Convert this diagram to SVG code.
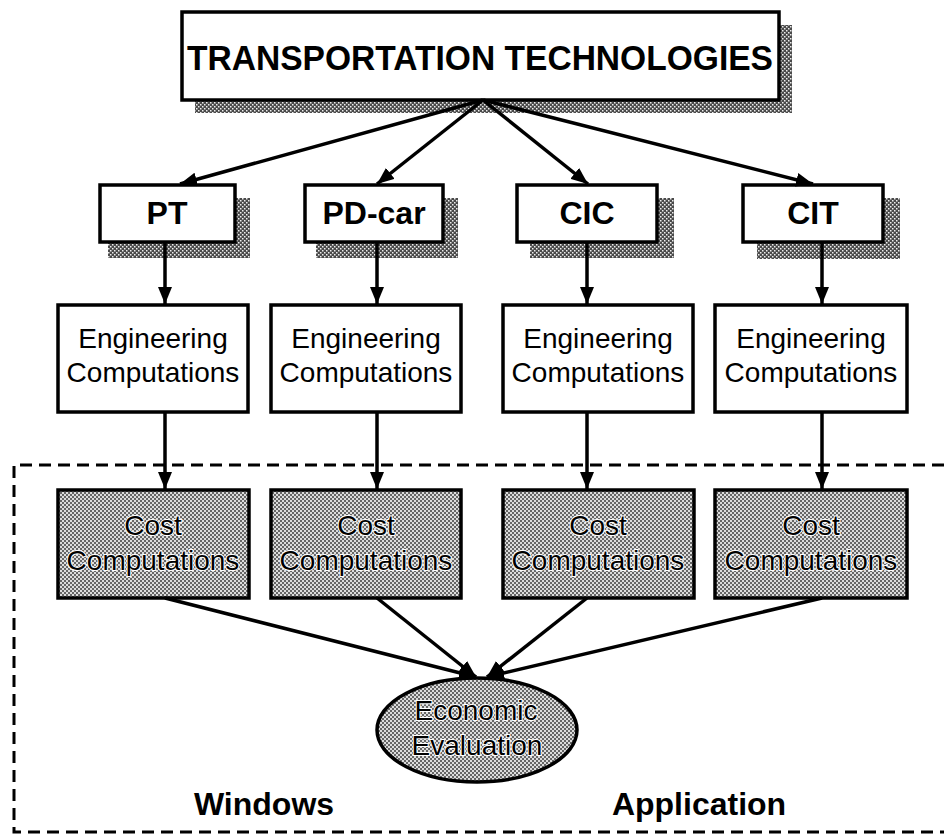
<svg xmlns="http://www.w3.org/2000/svg" width="944" height="837" viewBox="0 0 944 837">
<defs>
<pattern id="shade" width="4" height="4" patternUnits="userSpaceOnUse">
<rect width="4" height="4" fill="#4a4a4a"/>
<rect x="0" y="0" width="1.5" height="1.5" fill="#eee"/>
<rect x="2" y="2" width="1.5" height="1.5" fill="#eee"/>
</pattern>
<pattern id="fillp" width="4" height="4" patternUnits="userSpaceOnUse">
<rect width="4" height="4" fill="#dcdcdc"/>
<rect x="0" y="0" width="2" height="2" fill="#666"/>
<rect x="2" y="2" width="2" height="2" fill="#666"/>
</pattern>
<marker id="ah" viewBox="0 0 17 14" refX="17" refY="7" markerWidth="17" markerHeight="14" orient="auto" markerUnits="userSpaceOnUse">
<path d="M0,0 L17,7 L0,14 z" fill="#000"/>
</marker>
</defs>
<style>
.box{fill:#fff;stroke:#000;stroke-width:3.5}
.cbox{fill:url(#fillp);stroke:#000;stroke-width:3.5}
.sh{fill:url(#shade)}
.big{font-family:"Liberation Sans",Arial,sans-serif;font-weight:bold;fill:#000;text-anchor:middle}
.t{font-family:"Liberation Sans",Arial,sans-serif;font-size:28px;fill:#000;text-anchor:middle}
.ct{font-family:"Liberation Sans",Arial,sans-serif;font-size:28px;fill:#000;text-anchor:middle;stroke:#fff;stroke-width:2;paint-order:stroke}
.ln{stroke:#000;stroke-width:3.5;fill:none;marker-end:url(#ah)}
.dash{stroke:#000;stroke-width:3;fill:none;stroke-dasharray:12 7}
</style>
<rect width="944" height="837" fill="#fff"/>

<g id="boundary">
<path class="dash" d="M944,465 H14 V832 H944"/>
<text class="big" x="264" y="815" font-size="32">Windows</text>
<text class="big" x="699" y="815" font-size="32">Application</text>
</g>

<g id="title">
<rect class="sh" x="195" y="25" width="597" height="88"/>
<rect class="box" x="182" y="12" width="597" height="88"/>
<text class="big" x="480" y="70" font-size="35" textLength="586" lengthAdjust="spacingAndGlyphs">TRANSPORTATION  TECHNOLOGIES</text>
</g>

<g id="pt">
<rect class="sh" x="108" y="198" width="142" height="60"/>
<rect class="box" x="100" y="185" width="135" height="57"/>
<text class="big" x="167" y="224" font-size="32">PT</text>
</g>
<g id="pdcar">
<rect class="sh" x="316" y="198" width="142" height="60"/>
<rect class="box" x="305" y="185" width="138" height="57"/>
<text class="big" x="374" y="224" font-size="32">PD-car</text>
</g>
<g id="cic">
<rect class="sh" x="530" y="198" width="144" height="60"/>
<rect class="box" x="517" y="185" width="140" height="57"/>
<text class="big" x="587" y="224" font-size="32">CIC</text>
</g>
<g id="cit">
<rect class="sh" x="757" y="198" width="143" height="61"/>
<rect class="box" x="743" y="185" width="140" height="57"/>
<text class="big" x="813" y="224" font-size="32">CIT</text>
</g>

<g id="eng1">
<rect class="box" x="58" y="305" width="190" height="107"/>
<text class="t" x="153" y="348">Engineering</text>
<text class="t" x="153" y="382">Computations</text>
</g>
<g id="eng2">
<rect class="box" x="271" y="305" width="190" height="107"/>
<text class="t" x="366" y="348">Engineering</text>
<text class="t" x="366" y="382">Computations</text>
</g>
<g id="eng3">
<rect class="box" x="503" y="305" width="190" height="107"/>
<text class="t" x="598" y="348">Engineering</text>
<text class="t" x="598" y="382">Computations</text>
</g>
<g id="eng4">
<rect class="box" x="715" y="305" width="192" height="107"/>
<text class="t" x="811" y="348">Engineering</text>
<text class="t" x="811" y="382">Computations</text>
</g>

<g id="cost1">
<rect class="cbox" x="58" y="490" width="191" height="108"/>
<text class="ct" x="153" y="535">Cost</text>
<text class="ct" x="153" y="570">Computations</text>
</g>
<g id="cost2">
<rect class="cbox" x="271" y="490" width="190" height="108"/>
<text class="ct" x="366" y="535">Cost</text>
<text class="ct" x="366" y="570">Computations</text>
</g>
<g id="cost3">
<rect class="cbox" x="503" y="490" width="191" height="108"/>
<text class="ct" x="598" y="535">Cost</text>
<text class="ct" x="598" y="570">Computations</text>
</g>
<g id="cost4">
<rect class="cbox" x="715" y="490" width="192" height="108"/>
<text class="ct" x="811" y="535">Cost</text>
<text class="ct" x="811" y="570">Computations</text>
</g>

<g id="econ">
<ellipse cx="477" cy="730" rx="100" ry="52" fill="url(#fillp)" stroke="#000" stroke-width="3.5"/>
<text class="ct" x="476" y="720">Economic</text>
<text class="ct" x="477" y="755">Evaluation</text>
</g>

<g id="connectors">
<line class="ln" x1="483" y1="100" x2="180" y2="184"/>
<line class="ln" x1="483" y1="100" x2="377" y2="184"/>
<line class="ln" x1="483" y1="100" x2="588" y2="184"/>
<line class="ln" x1="483" y1="100" x2="813" y2="184"/>
<line class="ln" x1="165" y1="242" x2="165" y2="304"/>
<line class="ln" x1="377" y1="242" x2="377" y2="304"/>
<line class="ln" x1="587" y1="242" x2="587" y2="304"/>
<line class="ln" x1="822" y1="242" x2="822" y2="304"/>
<line class="ln" x1="165" y1="412" x2="165" y2="489"/>
<line class="ln" x1="377" y1="412" x2="377" y2="489"/>
<line class="ln" x1="587" y1="412" x2="587" y2="489"/>
<line class="ln" x1="822" y1="412" x2="822" y2="489"/>
<line class="ln" x1="165" y1="598" x2="476" y2="677"/>
<line class="ln" x1="377" y1="598" x2="476" y2="677"/>
<line class="ln" x1="587" y1="598" x2="487" y2="677"/>
<line class="ln" x1="822" y1="598" x2="487" y2="677"/>
</g>
</svg>
